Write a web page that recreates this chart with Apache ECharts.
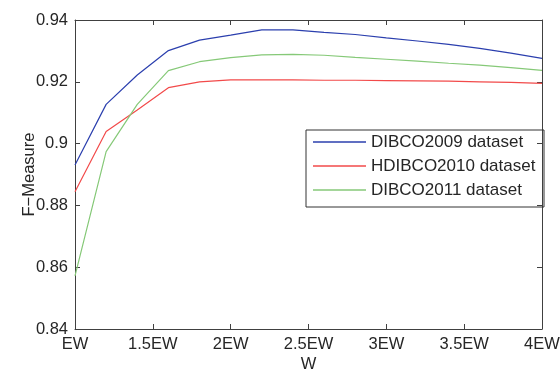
<!DOCTYPE html>
<html>
<head>
<meta charset="utf-8">
<script src="https://cdn.jsdelivr.net/npm/echarts@6/dist/echarts.min.js"></script>
<style>
  html, body { margin: 0; padding: 0; background: #fff; }
  #chart { width: 560px; height: 369px; }
</style>
</head>
<body>
<div id="chart"></div>
<script>
// window sizes, in units of EW
const widths = [1, 1.2, 1.4, 1.6, 1.8, 2, 2.2, 2.4, 2.6, 2.8, 3, 3.2, 3.4, 3.6, 3.8, 4];

const dibco2009 = [0.8931, 0.9127, 0.9222, 0.9301, 0.9335, 0.9351, 0.9368, 0.9368, 0.9360, 0.9353, 0.9342, 0.9332, 0.9321, 0.9308, 0.9293, 0.9276];
const hdibco2010 = [0.8844, 0.9039, 0.9109, 0.9181, 0.9200, 0.9206, 0.9206, 0.9206, 0.9205, 0.9205, 0.9204, 0.9203, 0.9202, 0.9200, 0.9198, 0.9195];
const dibco2011 = [0.8572, 0.8974, 0.9127, 0.9236, 0.9265, 0.9278, 0.9287, 0.9289, 0.9286, 0.9279, 0.9273, 0.9267, 0.9260, 0.9254, 0.9246, 0.9237];

const seriesNames = ['DIBCO2009 dataset', 'HDIBCO2010 dataset', 'DIBCO2011 dataset'];
const seriesColors = ['#2b3fae', '#f24a4a', '#86c978'];

const font = '"Liberation Sans", Arial, Helvetica, sans-serif';
const ink = '#262626';
const axisColor = '#404040';

const pairs = (ys) => widths.map((x, i) => [x, ys[i]]);

const chart = echarts.init(document.getElementById('chart'));

const lineStyleAxis = { show: true, lineStyle: { color: axisColor, width: 1 } };
const tickIn = { show: true, inside: true, length: 5, lineStyle: { color: axisColor } };

const option = {
  animation: false,
  backgroundColor: '#fff',
  textStyle: { fontFamily: font, color: ink },
  grid: { left: 75, top: 20, width: 467, height: 309, outerBoundsMode: 'none', containLabel: false },
  xAxis: [
    {
      type: 'value',
      min: 1,
      max: 4,
      interval: 0.5,
      name: 'W',
      nameLocation: 'middle',
      nameGap: 27,
      nameMoveOverlap: false,
      nameTextStyle: { fontSize: 16.5, color: ink, fontFamily: font },
      axisLine: lineStyleAxis,
      axisTick: tickIn,
      splitLine: { show: false },
      axisLabel: {
        fontSize: 16.5,
        color: ink,
        fontFamily: font,
        margin: 7,
        showMinLabel: true,
        showMaxLabel: true,
        formatter: (v) => (v === 1 ? 'EW' : v + 'EW'),
      },
    },
    {
      type: 'value',
      position: 'top',
      min: 1,
      max: 4,
      interval: 0.5,
      axisLine: lineStyleAxis,
      axisTick: tickIn,
      axisLabel: { show: false },
      splitLine: { show: false },
    },
  ],
  yAxis: [
    {
      type: 'value',
      min: 0.84,
      max: 0.94,
      interval: 0.02,
      name: 'F\u2212Measure',
      nameLocation: 'middle',
      nameGap: 37,
      nameMoveOverlap: false,
      nameTextStyle: { fontSize: 16.5, color: ink, fontFamily: font },
      axisLine: lineStyleAxis,
      axisTick: tickIn,
      splitLine: { show: false },
      axisLabel: {
        fontSize: 16.5,
        color: ink,
        fontFamily: font,
        margin: 7,
        formatter: (v) => String(parseFloat(v.toFixed(2))),
      },
    },
    {
      type: 'value',
      position: 'right',
      min: 0.84,
      max: 0.94,
      interval: 0.02,
      axisLine: lineStyleAxis,
      axisTick: tickIn,
      axisLabel: { show: false },
      splitLine: { show: false },
    },
  ],
  legend: {
    orient: 'vertical',
    left: 303,
    top: 127,
    padding: [5, 0, 0, 10],
    itemGap: 4,
    itemWidth: 53,
    itemHeight: 1.5,
    icon: 'rect',
    textStyle: { fontSize: 17, color: ink, fontFamily: font, lineHeight: 20 },
    data: seriesNames,
  },
  graphic: [
    {
      type: 'rect',
      left: 303.5,
      top: 127.5,
      shape: { width: 238, height: 77 },
      style: { fill: null, stroke: '#333', lineWidth: 1 },
      z: 100,
    },
  ],
  series: [dibco2009, hdibco2010, dibco2011].map((ys, i) => ({
    name: seriesNames[i],
    type: 'line',
    data: pairs(ys),
    showSymbol: false,
    symbol: 'none',
    lineStyle: { color: seriesColors[i], width: 1.2 },
    itemStyle: { color: seriesColors[i] },
  })),
};

chart.setOption(option);
</script>
</body>
</html>
